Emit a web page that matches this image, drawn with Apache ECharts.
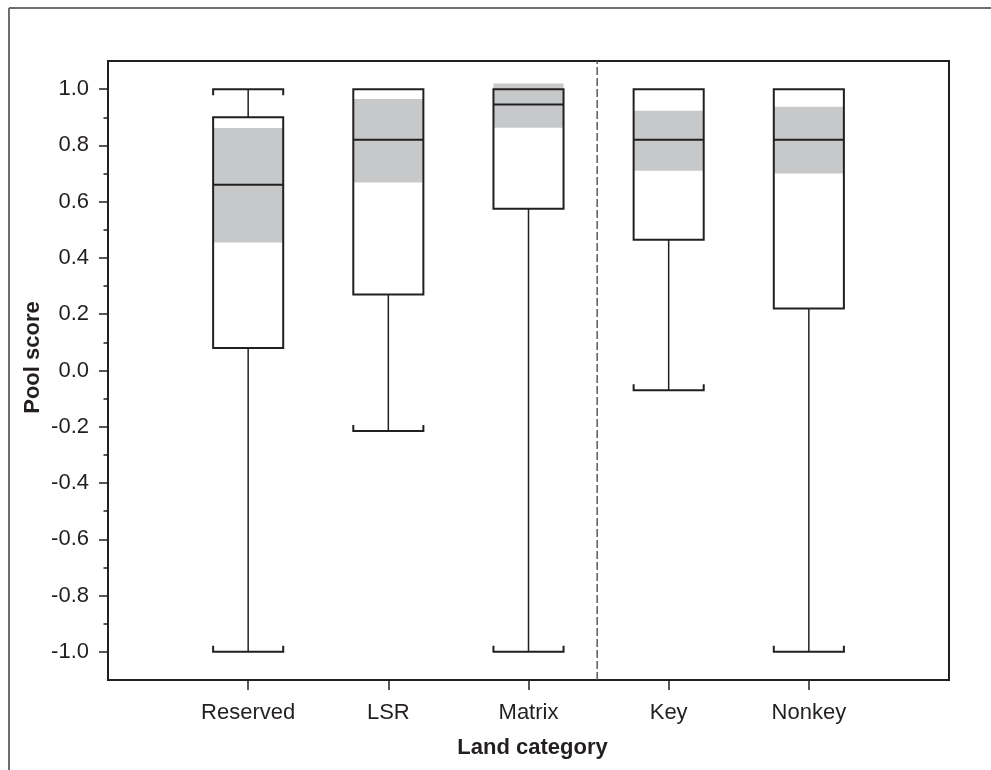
<!DOCTYPE html>
<html>
<head>
<meta charset="utf-8">
<script src="https://cdn.jsdelivr.net/npm/echarts@6/dist/echarts.min.js"></script>
<style>
  html, body { margin: 0; padding: 0; background: #ffffff; }
  #chart { width: 991px; height: 770px; }
</style>
</head>
<body>
<div id="chart"></div>
<script>
// Land categories along the x axis
const categories = ['Reserved', 'LSR', 'Matrix', 'Key', 'Nonkey'];

// Box-plot statistics for the pool score of each category
const whiskerLow  = [-1.0, -0.215, -1.0, -0.07, -1.0];
const quartile1   = [0.08, 0.27, 0.575, 0.465, 0.22];
const medians     = [0.66, 0.82, 0.945, 0.82, 0.82];
const quartile3   = [0.90, 1.0, 1.0, 1.0, 1.0];
const whiskerHigh = [1.0, 1.0, 1.0, 1.0, 1.0];

// Shaded confidence interval around each median
const ciLow  = [0.455, 0.668, 0.863, 0.71, 0.70];
const ciHigh = [0.862, 0.965, 1.02, 0.923, 0.937];

// Y axis ticks
const yMajorValues = [-1.0, -0.8, -0.6, -0.4, -0.2, 0.0, 0.2, 0.4, 0.6, 0.8, 1.0];
const yMajorLabels = ['-1.0', '-0.8', '-0.6', '-0.4', '-0.2', '0.0', '0.2', '0.4', '0.6', '0.8', '1.0'];
const yMinorValues = [-0.9, -0.7, -0.5, -0.3, -0.1, 0.1, 0.3, 0.5, 0.7, 0.9];

// Position of the dashed separator between the two groups of categories
const dividerAt = 3.49;

const INK = '#231f20';
const BAND = '#c7c8ca';
const FONT = "'Liberation Sans', Arial, Helvetica, sans-serif";

const boxData = categories.map((c, i) => [
  i + 1, whiskerLow[i], quartile1[i], medians[i], quartile3[i], whiskerHigh[i], ciLow[i], ciHigh[i]
]);

function renderBox(params, api) {
  const x = api.value(0);
  const low = api.value(1), q1 = api.value(2), med = api.value(3);
  const q3 = api.value(4), high = api.value(5), cLo = api.value(6), cHi = api.value(7);
  const cx = api.coord([x, 0])[0];
  const py = v => api.coord([x, v])[1];
  const half = api.size([1, 0])[0] * 0.25;
  const capH = 6;
  const children = [];

  // whiskers
  if (low < q1) {
    children.push({ type: 'line', shape: { x1: cx, y1: py(low), x2: cx, y2: py(q1) },
      style: { stroke: INK, lineWidth: 1.5 } });
    children.push({ type: 'polyline', shape: { points: [
      [cx - half, py(low) - capH], [cx - half, py(low)], [cx + half, py(low)], [cx + half, py(low) - capH]
    ] }, style: { stroke: INK, lineWidth: 2, fill: null } });
  }
  if (high > q3) {
    children.push({ type: 'line', shape: { x1: cx, y1: py(q3), x2: cx, y2: py(high) },
      style: { stroke: INK, lineWidth: 1.5 } });
    children.push({ type: 'polyline', shape: { points: [
      [cx - half, py(high) + capH], [cx - half, py(high)], [cx + half, py(high)], [cx + half, py(high) + capH]
    ] }, style: { stroke: INK, lineWidth: 2, fill: null } });
  }

  // box body
  children.push({ type: 'rect', shape: { x: cx - half, y: py(q3), width: 2 * half, height: py(q1) - py(q3) },
    style: { fill: '#ffffff' } });
  // confidence band
  children.push({ type: 'rect', shape: { x: cx - half, y: py(cHi), width: 2 * half, height: py(cLo) - py(cHi) },
    style: { fill: BAND } });
  // box outline
  children.push({ type: 'rect', shape: { x: cx - half, y: py(q3), width: 2 * half, height: py(q1) - py(q3) },
    style: { fill: null, stroke: INK, lineWidth: 2 } });
  // median
  children.push({ type: 'line', shape: { x1: cx - half, y1: py(med), x2: cx + half, y2: py(med) },
    style: { stroke: INK, lineWidth: 2 } });

  return { type: 'group', children };
}

const chart = echarts.init(document.getElementById('chart'), null, { renderer: 'canvas' });

chart.setOption({
  animation: false,
  backgroundColor: '#ffffff',
  textStyle: { fontFamily: FONT },
  graphic: [
    { type: 'line', shape: { x1: 9, y1: 8, x2: 991, y2: 8 }, style: { stroke: '#6d6e70', lineWidth: 2 } },
    { type: 'line', shape: { x1: 9, y1: 8, x2: 9, y2: 770 }, style: { stroke: '#6d6e70', lineWidth: 2 } }
  ],
  grid: {
    left: 108, right: 42, top: 61, bottom: 90,
    show: true, borderColor: INK, borderWidth: 2, backgroundColor: 'transparent'
  },
  xAxis: {
    type: 'value', min: 0, max: 6,
    name: 'Land category', nameLocation: 'middle', nameGap: 57, nameMoveOverlap: false,
    nameTextStyle: { fontFamily: FONT, fontSize: 22, fontWeight: 'bold', color: INK, padding: [0, 0, 0, 8] },
    axisLine: { show: true, onZero: false, lineStyle: { color: INK, width: 2 } },
    axisTick: { show: true, customValues: [1, 2, 3, 4, 5], length: 10, inside: false,
      lineStyle: { color: INK, width: 1.5 } },
    axisLabel: { customValues: [1, 2, 3, 4, 5], margin: 22, fontFamily: FONT, fontSize: 22, color: INK,
      formatter: v => categories[Math.round(v) - 1] },
    splitLine: { show: false }
  },
  yAxis: [
    {
      type: 'value', min: -1.1, max: 1.1,
      name: 'Pool score', nameLocation: 'middle', nameGap: 64, nameRotate: 90, nameMoveOverlap: false,
      nameTextStyle: { fontFamily: FONT, fontSize: 22, fontWeight: 'bold', color: INK, padding: [0, 0, 0, 26] },
      axisLine: { show: true, onZero: false, lineStyle: { color: INK, width: 2 } },
      axisTick: { show: true, customValues: yMajorValues, length: 9, lineStyle: { color: INK, width: 1.5 } },
      axisLabel: { customValues: yMajorValues, margin: 19, fontFamily: FONT, fontSize: 22, color: INK,
        formatter: v => {
          const i = yMajorValues.findIndex(t => Math.abs(t - v) < 1e-6);
          return i >= 0 ? yMajorLabels[i] : '';
        } },
      splitLine: { show: false }
    },
    {
      type: 'value', min: -1.1, max: 1.1, position: 'left',
      axisLine: { show: false, onZero: false },
      axisTick: { show: true, customValues: yMinorValues, length: 4.5, lineStyle: { color: INK, width: 1.5 } },
      axisLabel: { show: false },
      splitLine: { show: false }
    }
  ],
  series: [
    {
      type: 'line',
      silent: true,
      symbol: 'none',
      data: [[dividerAt, -1.1], [dividerAt, 1.1]],
      lineStyle: { color: '#58595b', width: 1.5, type: [8, 3] },
      z: 1
    },
    {
      type: 'custom',
      silent: true,
      renderItem: renderBox,
      data: boxData,
      encode: { x: 0, y: [1, 2, 3, 4, 5] },
      z: 2
    }
  ]
});
</script>
</body>
</html>
